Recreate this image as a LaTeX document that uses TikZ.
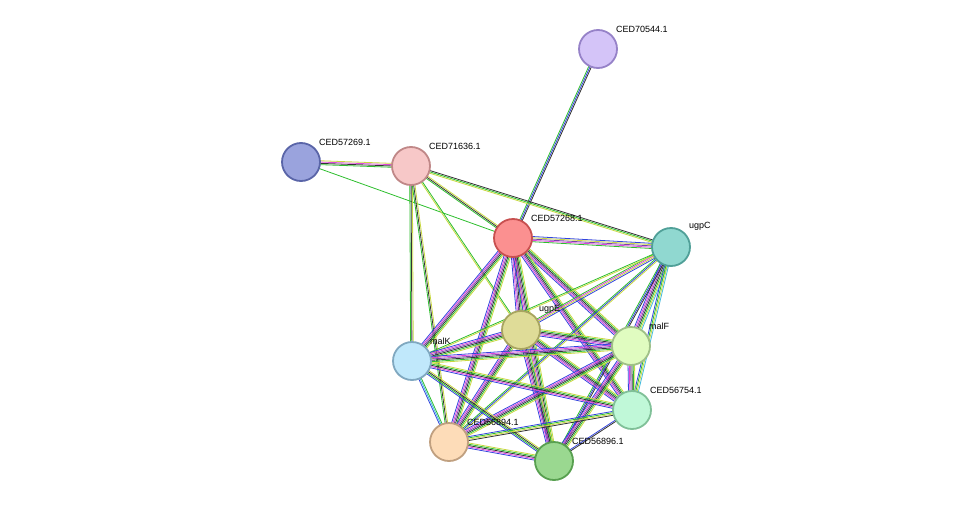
\documentclass[tikz,border=0pt]{standalone}
\usetikzlibrary{calc}
\usepackage{fontspec}
\setmainfont{Liberation Sans}
\definecolor{eG}{HTML}{2DBE2D}
\definecolor{eB}{HTML}{3344DD}
\definecolor{eM}{HTML}{DD44DD}
\definecolor{eK}{HTML}{333333}
\definecolor{eY}{HTML}{C8D840}
\definecolor{eC}{HTML}{44BBDD}
\definecolor{eP}{HTML}{7744AA}
\newcommand\ed[4]{\foreach \c [count=\i] in {#4} {\pgfmathsetmacro\o{(\i-(#3+1)/2)*1.3}\draw[\c,line width=0.8pt] ($(#1)!\o pt!90:(#2)$) -- ($(#2)!\o pt!-90:(#1)$);}}
\tikzset{prot/.style={circle,minimum size=38pt,inner sep=0pt,line width=1.8pt},
 lbl/.style={font=\fontsize{9}{10}\selectfont,anchor=south west,inner sep=1pt}}
\begin{document}
\begin{tikzpicture}[x=1pt,y=-1pt]
\useasboundingbox (0,0) rectangle (976,506);
\coordinate (a) at (598,49);
\coordinate (b) at (301,162);
\coordinate (c) at (411,166);
\coordinate (d) at (513,238);
\coordinate (e) at (671,247);
\coordinate (f) at (521,330);
\coordinate (g) at (631,346);
\coordinate (h) at (412,361);
\coordinate (i) at (632,410);
\coordinate (j) at (449,442);
\coordinate (k) at (554,461);
\ed{a}{d}{3}{eG,eB,eK}
\ed{b}{c}{4}{eG,eK,eM,eY}
\ed{b}{d}{1}{eG}
\ed{c}{d}{3}{eG,eK,eY}
\ed{c}{e}{3}{eY,eG,eK}
\ed{c}{h}{3}{eG,eK,eY}
\ed{c}{j}{3}{eG,eK,eY}
\ed{c}{f}{2}{eY,eG}
\ed{d}{e}{5}{eG,eM,eP,eY,eB}
\foreach \t in {f,g,h,i,j,k} {\ed{d}{\t}{6}{eB,eM,eP,eK,eG,eY}}
\ed{e}{f}{4}{eG,eM,eY,eB}
\ed{e}{g}{7}{eB,eM,eP,eK,eG,eY,eC}
\ed{e}{h}{2}{eG,eY}
\ed{e}{i}{4}{eB,eG,eY,eC}
\ed{e}{j}{3}{eG,eB,eY}
\ed{e}{k}{3}{eG,eB,eK}
\foreach \t in {g,h,i,j,k} {\ed{f}{\t}{6}{eB,eM,eP,eK,eG,eY}}
\foreach \t in {h,i,j,k} {\ed{g}{\t}{6}{eB,eM,eP,eK,eG,eY}}
\ed{h}{i}{5}{eB,eM,eK,eG,eY}
\ed{h}{j}{3}{eB,eC,eG}
\ed{h}{k}{4}{eB,eG,eK,eY}
\ed{i}{j}{4}{eB,eG,eY,eK}
\ed{i}{k}{2}{eB,eK}
\ed{j}{k}{5}{eB,eM,eK,eG,eY}
\node[prot,fill={rgb,255:red,212;green,196;blue,248},draw={rgb,255:red,150;green,130;blue,200}] (na) at (a) {};
\node[prot,fill={rgb,255:red,154;green,163;blue,221},draw={rgb,255:red,90;green,101;blue,168}] (nb) at (b) {};
\node[prot,fill={rgb,255:red,247;green,200;blue,200},draw={rgb,255:red,192;green,136;blue,136}] (nc) at (c) {};
\node[prot,fill={rgb,255:red,251;green,144;blue,144},draw={rgb,255:red,200;green,80;blue,80}] (nd) at (d) {};
\node[prot,fill={rgb,255:red,144;green,216;blue,208},draw={rgb,255:red,80;green,160;blue,152}] (ne) at (e) {};
\node[prot,fill={rgb,255:red,223;green,220;blue,152},draw={rgb,255:red,168;green,165;blue,96}] (nf) at (f) {};
\node[prot,fill={rgb,255:red,224;green,252;blue,192},draw={rgb,255:red,160;green,192;blue,136}] (ng) at (g) {};
\node[prot,fill={rgb,255:red,192;green,232;blue,251},draw={rgb,255:red,128;green,168;blue,192}] (nh) at (h) {};
\node[prot,fill={rgb,255:red,192;green,248;blue,216},draw={rgb,255:red,128;green,192;blue,152}] (ni) at (i) {};
\node[prot,fill={rgb,255:red,253;green,220;blue,184},draw={rgb,255:red,192;green,160;blue,128}] (nj) at (j) {};
\node[prot,fill={rgb,255:red,154;green,216;blue,144},draw={rgb,255:red,88;green,160;blue,80}] (nk) at (k) {};
\node[lbl] (la) at (615,34) {CED70544.1};
\node[lbl] (lb) at (318,147) {CED57269.1};
\node[lbl] (lc) at (428,151) {CED71636.1};
\node[lbl] (ld) at (530,223) {CED57268.1};
\node[lbl] (le) at (688,232) {ugpC};
\node[lbl] (lf) at (538,315) {ugpE};
\node[lbl] (lg) at (648,331) {malF};
\node[lbl] (lh) at (429,346) {malK};
\node[lbl] (li) at (649,395) {CED56754.1};
\node[lbl] (lj) at (466,427) {CED56894.1};
\node[lbl] (lk) at (571,446) {CED56896.1};
\end{tikzpicture}
\end{document}
